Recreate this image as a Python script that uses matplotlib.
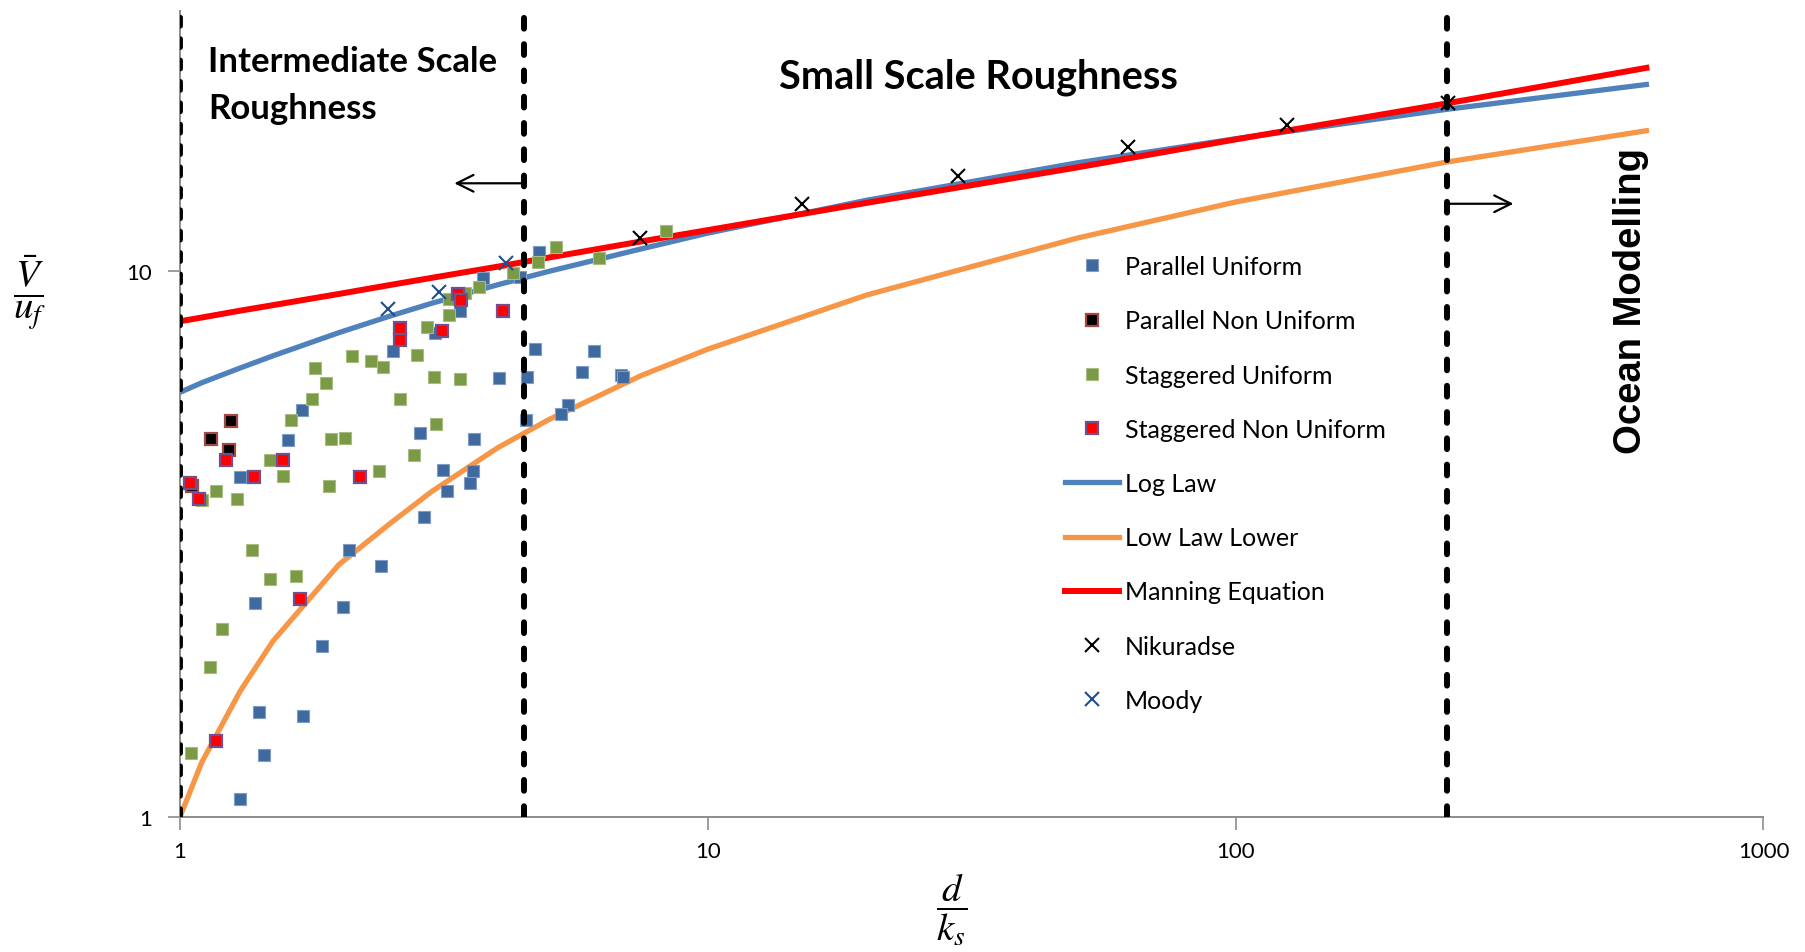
import numpy as np
import matplotlib.pyplot as plt
from matplotlib.ticker import FixedLocator, FixedFormatter, NullLocator

plt.rcParams['font.family'] = ['Lato', 'DejaVu Sans']
plt.rcParams['mathtext.fontset'] = 'stix'

# ---- data (d/ks , V/uf) ----
pu_x = [2.53, 1.70, 1.60, 1.30, 2.85, 2.90, 2.09, 2.40, 1.39, 2.04, 1.86, 1.41, 1.71, 1.44, 1.30,
        3.04, 3.40, 3.75, 4.40, 4.78, 4.70, 6.10, 4.55, 5.77, 6.85, 6.90, 4.02, 5.43, 5.26, 4.53,
        3.60, 3.15, 3.59, 3.54, 3.21]
pu_y = [7.15, 5.57, 4.91, 4.20, 5.06, 3.55, 3.08, 2.88, 2.47, 2.43, 2.06, 1.56, 1.53, 1.30, 1.08,
        7.72, 8.46, 9.71, 9.78, 10.87, 7.22, 7.14, 6.41, 6.55, 6.45, 6.40, 6.37, 5.70, 5.47, 5.34,
        4.92, 4.32, 4.31, 4.10, 3.95]

pnu_x = [1.25, 1.145, 1.238, 1.055]
pnu_y = [5.31, 4.92, 4.70, 4.05]

su_x = [2.94, 2.81, 2.12, 2.30, 2.42, 1.80, 1.89, 1.78, 1.62, 2.61, 1.93, 2.05, 1.48, 1.57, 1.92,
        2.38, 2.78, 1.17, 1.28, 1.10, 3.03, 3.06, 1.37, 1.48, 1.66, 1.20, 1.14, 1.05, 3.23, 3.46,
        3.24, 3.40, 3.68, 4.27, 4.77, 5.15, 6.23, 8.33]
su_y = [7.89, 7.02, 7.00, 6.86, 6.68, 6.64, 6.25, 5.83, 5.33, 5.83, 4.92, 4.95, 4.52, 4.21, 4.04,
        4.30, 4.61, 3.96, 3.83, 3.81, 6.39, 5.26, 3.09, 2.73, 2.77, 2.21, 1.88, 1.31, 8.91, 9.11,
        8.31, 6.34, 9.35, 9.92, 10.42, 11.10, 10.58, 11.86]

snu_x = [1.044, 1.086, 1.225, 1.38, 1.57, 2.19, 2.61, 2.61, 1.17, 1.69, 3.36, 3.41, 3.14, 4.10]
snu_y = [4.10, 3.83, 4.52, 4.20, 4.51, 4.19, 7.88, 7.48, 1.375, 2.51, 9.07, 8.86, 7.78, 8.46]

curve_x = [1, 1.1, 1.3, 1.5, 2, 2.5, 3, 4, 5, 7.5, 10, 20, 50, 100, 250, 600]
log_law = [6.0, 6.25, 6.65, 7.0, 7.72, 8.28, 8.74, 9.45, 10.0, 11.0, 11.75, 13.5, 15.8, 17.5, 19.8, 22.0]
log_law_lower = [1.0, 1.26, 1.7, 2.1, 2.9, 3.45, 3.95, 4.75, 5.35, 6.45, 7.2, 9.05, 11.5, 13.4, 15.85, 18.1]
manning = [8.1, 8.23, 8.47, 8.67, 9.09, 9.44, 9.73, 10.2, 10.6, 11.35, 11.9, 13.35, 15.5, 17.45, 20.3, 23.6]

nik_x = [7.44, 15.1, 29.8, 62.6, 125, 252]
nik_y = [11.53, 13.27, 14.98, 16.87, 18.55, 20.33]

moody_x = [2.48, 3.10, 4.14]
moody_y = [8.52, 9.18, 10.34]

boundaries = [1, 4.48, 251]

# ---- figure ----
fig = plt.figure(figsize=(18.05, 9.53), dpi=100)
ax = fig.add_axes([0.0997, 0.1417, 0.8773, 0.8457])
ax.set_xscale('log')
ax.set_yscale('log')

ms = 9
ax.plot(pu_x, pu_y, 's', ms=ms, color='#3F6A9F', mec='#7E9CC6', mew=0.8, label='Parallel Uniform', zorder=3)
ax.plot(pnu_x, pnu_y, 's', ms=ms, color='black', mec='#A04A44', mew=1.6, label='Parallel Non Uniform', zorder=3)
ax.plot(su_x, su_y, 's', ms=ms, color='#7A9A46', mec='#A7BC80', mew=0.8, label='Staggered Uniform', zorder=3)
ax.plot(snu_x, snu_y, 's', ms=ms, color='#FF0000', mec='#705090', mew=1.6, label='Staggered Non Uniform', zorder=3)

ax.plot(curve_x, log_law, color='#4F81BD', lw=3.8, label='Log Law', zorder=2)
ax.plot(curve_x, log_law_lower, color='#F79646', lw=3.8, label='Low Law Lower', zorder=2)
ax.plot(curve_x, manning, color='#FF0000', lw=4.3, label='Manning Equation', zorder=2)

ax.plot(nik_x, nik_y, 'x', ms=10.5, mew=1.5, color='black', label='Nikuradse', zorder=4)
ax.plot(moody_x, moody_y, 'x', ms=10.5, mew=1.5, color='#1F4E8C', label='Moody', zorder=4)

for i, b in enumerate(boundaries):
    ax.axvline(b, color='black', lw=3.5 if i == 0 else 4.3, dashes=(1.8, 2.6),
               dash_capstyle='round', zorder=5)

# arrows marking the regimes
ax.annotate('', xy=(3.27, 14.5), xytext=(4.48, 14.5),
            arrowprops=dict(arrowstyle='->', lw=1.6, color='black', mutation_scale=30), zorder=6)
ax.annotate('', xy=(340, 13.3), xytext=(251, 13.3),
            arrowprops=dict(arrowstyle='->', lw=1.6, color='black', mutation_scale=30), zorder=6)

ax.set_xlim(1, 1000)
ax.set_ylim(1, 30)

ax.xaxis.set_major_locator(FixedLocator([1, 10, 100, 1000]))
ax.xaxis.set_major_formatter(FixedFormatter(['1', '10', '100', '1000']))
ax.xaxis.set_minor_locator(NullLocator())
ax.yaxis.set_major_locator(FixedLocator([1, 10]))
ax.yaxis.set_major_formatter(FixedFormatter(['1', '10']))
ax.yaxis.set_minor_locator(NullLocator())

for s in ['top', 'right']:
    ax.spines[s].set_visible(False)
for s in ['left', 'bottom']:
    ax.spines[s].set_color('#8C8C8C')
    ax.spines[s].set_linewidth(1.4)
ax.tick_params(axis='both', direction='out', length=9, width=1.2, color='#8C8C8C', labelsize=16)
ax.tick_params(axis='x', pad=8)
ax.tick_params(axis='y', pad=11)

leg = ax.legend(loc='upper left', bbox_to_anchor=(1065 / 1805, 1 - 256 / 953),
                bbox_transform=fig.transFigure, frameon=False, fontsize=18, numpoints=1,
                handlelength=2.15, handletextpad=0.25, labelspacing=1.25, borderpad=0,
                borderaxespad=0)

# region labels
fig.text(0.1152, 0.935, 'Intermediate Scale', fontsize=25, fontweight='bold', ha='left', va='center')
fig.text(0.1152, 0.8856, 'Roughness', fontsize=25, fontweight='bold', ha='left', va='center')
fig.text(0.5418, 0.919, 'Small Scale Roughness', fontsize=28.5, fontweight='bold', ha='center', va='center')
fig.text(0.9036, 0.684, 'Ocean Modelling', fontsize=27.5, fontweight='bold', rotation=90,
         ha='center', va='center', family=['Liberation Sans', 'DejaVu Sans'])

# axis labels as fractions
fig.text(0.0166, 0.6926, r'$\dfrac{\bar{V}}{u_f}$', fontsize=28, ha='center', va='center')
fig.text(0.5274, 0.0451, r'$\dfrac{d}{k_s}$', fontsize=28, ha='center', va='center')

fig.savefig('out.png', dpi=100)
